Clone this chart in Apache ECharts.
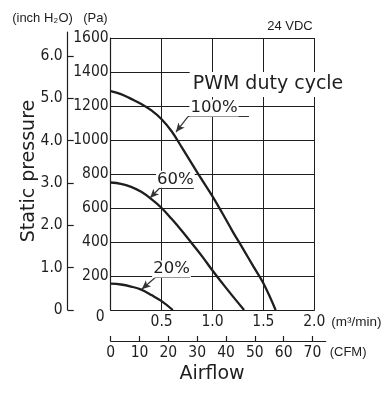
<!DOCTYPE html>
<html>
<head>
<meta charset="utf-8">
<script src="https://cdn.jsdelivr.net/npm/echarts@6.0.0/dist/echarts.min.js"></script>
<style>
  html, body { margin: 0; padding: 0; background: #fff; }
  #chart { width: 387px; height: 395px; }
</style>
</head>
<body>
<div id="chart"></div>
<script>
// curves: airflow (m3/min) vs static pressure (Pa)
const flow100 = [0, 0.1, 0.2, 0.3, 0.4, 0.5, 0.6, 0.7, 0.8, 0.9, 1.0, 1.1, 1.2, 1.3, 1.4, 1.5, 1.62]
const pa100 = [1288, 1270, 1242, 1212, 1174, 1122, 1050, 955, 858, 762, 668, 566, 460, 360, 258, 157, 0]
const flow60 = [0, 0.1, 0.2, 0.3, 0.4, 0.5, 0.6, 0.7, 0.8, 0.9, 1.0, 1.1, 1.2, 1.31]
const pa60 = [750, 742, 724, 695, 652, 600, 535, 465, 390, 314, 232, 155, 80, 0]
const flow20 = [0, 0.1, 0.2, 0.3, 0.4, 0.5, 0.61]
const pa20 = [155, 150, 138, 120, 88, 52, 0]

const inchTicks = [0, 1, 2, 3, 4, 5, 6]
const cfmTicks = [0, 10, 20, 30, 40, 50, 60, 70]

const PA_PER_INH2O = 249.089
const CFM_PER_M3MIN = 35.3147

const INK = '#1e1e1e'
const NARROW = '"DejaVu Sans Condensed", "Liberation Sans Narrow", sans-serif'
const WIDE = '"DejaVu Sans", sans-serif'
const SANS = '"Liberation Sans", Arial, sans-serif'
const NUM_SIZE = 15.5

// main grid: 0..2 m3/min, 0..1600 Pa
const g = { left: 110.7, top: 38, right: 72.7, bottom: 85 }
// secondary scales run a little past the main plot
const g2 = { left: 110.7, top: 32, right: 61.3, bottom: 85 }
const plotH = 395 - g.top - g.bottom
const plotW = 387 - g.left - g.right
const inchMax = 1600 * ((395 - g2.top - g2.bottom) / plotH) / PA_PER_INH2O
const cfmMax = 2 * ((387 - g2.left - g2.right) / plotW) * CFM_PER_M3MIN

const pairs = (xs, ys) => xs.map((x, i) => [x, ys[i]])

function callout(text, textAt, lineFrom, lineTo, tip) {
  return {
    markPoint: {
      silent: true,
      symbolSize: 0,
      label: {
        show: true, position: 'inside', formatter: text,
        fontFamily: WIDE, fontSize: 16.5, color: INK,
        backgroundColor: '#fff', padding: [0, 1]
      },
      data: [{ coord: textAt }]
    },
    markLine: {
      silent: true,
      symbol: 'none',
      label: { show: false },
      lineStyle: { color: '#333', width: 1.2, type: 'solid' },
      animation: false,
      data: [
        [{ coord: lineFrom }, { coord: lineTo }],
        [{ coord: lineFrom, symbol: 'none' }, { coord: tip, symbol: 'arrow', symbolSize: [6, 9] }]
      ]
    }
  }
}

const chart = echarts.init(document.getElementById('chart'))

const curve = (name, data, extra) => Object.assign({
  name: name,
  type: 'line',
  xAxisIndex: 0,
  yAxisIndex: 0,
  data: data,
  smooth: 0.4,
  showSymbol: false,
  lineStyle: { color: INK, width: 2.3 },
  animation: false
}, extra)

const option = {
  animation: false,
  grid: [
    Object.assign({ outerBoundsMode: 'none' }, g),
    Object.assign({ outerBoundsMode: 'none' }, g2)
  ],
  xAxis: [
    {
      type: 'value', gridIndex: 0, min: 0, max: 2, interval: 0.5,
      axisLine: { show: true, onZero: false, lineStyle: { color: INK, width: 1.2 } },
      axisTick: { show: false },
      splitLine: { show: true, lineStyle: { color: INK, width: 1 } },
      axisLabel: {
        showMinLabel: false, margin: 4, color: INK,
        fontFamily: NARROW, fontSize: NUM_SIZE,
        formatter: v => v.toFixed(1)
      },
      name: '(m³/min)', nameLocation: 'end', nameGap: 13,
      nameTextStyle: { fontFamily: SANS, fontSize: 13.5, color: INK, verticalAlign: 'top', padding: [5, 0, 0, 0] }
    },
    {
      type: 'value', gridIndex: 1, min: 0, max: cfmMax, position: 'bottom', offset: 31,
      axisLine: { show: true, onZero: false, lineStyle: { color: INK, width: 1.2 } },
      axisTick: { show: true, inside: true, length: 5, customValues: cfmTicks, lineStyle: { color: INK, width: 1.2 } },
      splitLine: { show: false },
      axisLabel: { customValues: cfmTicks, margin: 4, color: INK, fontFamily: NARROW, fontSize: NUM_SIZE },
      name: '(CFM)', nameLocation: 'end', nameGap: 4,
      nameTextStyle: { fontFamily: SANS, fontSize: 13, color: INK, verticalAlign: 'top', padding: [5, 0, 0, 0] }
    }
  ],
  yAxis: [
    {
      type: 'value', gridIndex: 0, min: 0, max: 1600, interval: 200,
      axisLine: { show: true, onZero: false, lineStyle: { color: INK, width: 1.2 } },
      axisTick: { show: false },
      splitLine: { show: true, lineStyle: { color: INK, width: 1 } },
      axisLabel: {
        margin: 2, color: INK, fontFamily: NARROW, fontSize: NUM_SIZE,
        formatter: v => v === 0 ? '{z|0}' : String(v),
        rich: { z: { fontFamily: NARROW, fontSize: NUM_SIZE, color: INK, padding: [14, 4, 0, 0] } }
      },
      name: '(Pa)', nameLocation: 'end', nameGap: 13,
      nameTextStyle: { fontFamily: SANS, fontSize: 13, color: INK, align: 'right', padding: [0, 3, 0, 0] }
    },
    {
      type: 'value', gridIndex: 1, min: 0, max: inchMax, position: 'left', offset: 43,
      axisLine: { show: true, onZero: false, lineStyle: { color: INK, width: 1.2 } },
      axisTick: { show: true, inside: true, length: 6, customValues: inchTicks, lineStyle: { color: INK, width: 1.2 } },
      splitLine: { show: false },
      axisLabel: {
        customValues: inchTicks, margin: 5, color: INK, fontFamily: NARROW, fontSize: NUM_SIZE,
        formatter: v => v === 0 ? '0' : v.toFixed(1)
      },
      name: 'Static pressure', nameLocation: 'middle', nameGap: 29, nameRotate: 90,
      nameMoveOverlap: false,
      nameTextStyle: { fontFamily: WIDE, fontSize: 19, color: INK }
    }
  ],
  graphic: [
    { type: 'text', x: 42.5, y: 18.3, z: 10, style: { text: '(inch H₂O)', fontFamily: SANS, fontSize: 13, fill: INK, align: 'center', verticalAlign: 'middle' } },
    { type: 'text', x: 290, y: 26.7, z: 10, style: { text: '24 VDC', fontFamily: SANS, fontSize: 13, fill: INK, align: 'center', verticalAlign: 'middle' } },
    { type: 'text', x: 268, y: 84.5, z: 10, style: { text: 'PWM duty cycle', fontFamily: WIDE, fontSize: 19, fill: INK, align: 'center', verticalAlign: 'middle', backgroundColor: '#fff', padding: [3, 3] } },
    { type: 'text', x: 212, y: 374, z: 10, style: { text: 'Airflow', fontFamily: WIDE, fontSize: 19, fill: INK, align: 'center', verticalAlign: 'middle' } }
  ],
  series: [
    curve('100%', pairs(flow100, pa100),
      callout('100%', [1.015, 1188], [0.759, 1137], [1.359, 1137], [0.641, 1047])),
    curve('60%', pairs(flow60, pa60),
      callout('60%', [0.635, 769], [0.484, 719], [0.818, 719], [0.386, 659])),
    curve('20%', pairs(flow20, pa20),
      callout('20%', [0.597, 241], [0.435, 190], [0.779, 190], [0.305, 122]))
  ]
}

chart.setOption(option)
</script>
</body>
</html>
